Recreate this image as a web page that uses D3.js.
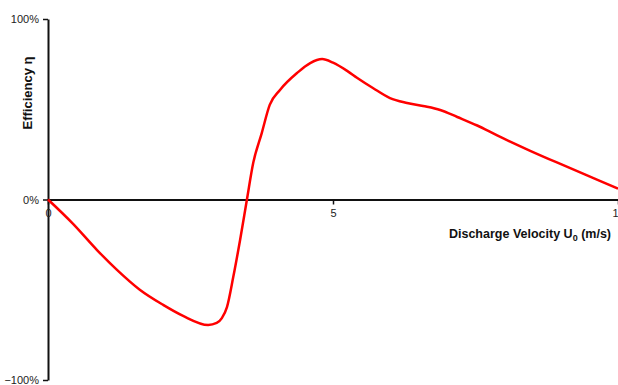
<!DOCTYPE html>
<html>
<head>
<meta charset="utf-8">
<script src="https://cdn.jsdelivr.net/npm/d3@7"></script>
<style>
  body { margin: 0; background: #fff; }
  text { font-family: "Liberation Sans", Arial, sans-serif; }
</style>
</head>
<body>
<div class="chart"></div>
<script>
// discharge velocity (m/s) and efficiency (fraction)
const velocity = [0, 0.44, 0.86, 1.21, 1.61, 2.02, 2.37, 2.81, 2.96, 3.05, 3.14, 3.25, 3.37, 3.49,
  3.60, 3.75, 3.89, 4.07, 4.37, 4.60, 4.81, 5.0, 5.26, 5.42, 5.70, 6.00, 6.30, 6.58, 6.88, 7.18,
  7.53, 7.88, 8.46, 9.04, 9.63, 10.0];
const efficiency = [0, -0.135, -0.28, -0.39, -0.50, -0.584, -0.645, -0.695, -0.684, -0.657, -0.596,
  -0.43, -0.224, 0, 0.202, 0.368, 0.524, 0.607, 0.701, 0.756, 0.778, 0.758, 0.71, 0.675, 0.618,
  0.562, 0.535, 0.518, 0.496, 0.457, 0.41, 0.355, 0.27, 0.19, 0.11, 0.06];
const xTicks = [0, 5, 10];
const yTicks = [-1, 0, 1];

const W = 618, H = 385;
const margin = {top: 19, right: 0, bottom: 5, left: 48};

const svg = d3.select(".chart").append("svg")
    .attr("width", W)
    .attr("height", H);

const x = d3.scaleLinear().domain([0, 10]).range([margin.left, 618]);
const y = d3.scaleLinear().domain([-1, 1]).range([380, 19]);

// y axis
const yaxis = svg.append("g")
    .attr("transform", "translate(" + margin.left + ",0)")
    .call(d3.axisLeft(y).tickValues(yTicks).tickFormat(d3.format(".0%")).tickSize(5).tickSizeOuter(0));

// x axis at 0%
const xaxis = svg.append("g")
    .attr("transform", "translate(0," + y(0) + ")")
    .call(d3.axisBottom(x).tickValues(xTicks).tickSize(5).tickSizeOuter(0));

[yaxis, xaxis].forEach(a => {
  a.select(".domain").attr("stroke", "#111").attr("stroke-width", 2);
  a.selectAll(".tick line").attr("stroke", "#111").attr("stroke-width", 1.5);
  a.selectAll(".tick text").attr("fill", "#222").style("font-size", "11px")
    .style("font-family", "'Liberation Sans', Arial, sans-serif");
});
yaxis.selectAll(".tick text").attr("x", -9);
xaxis.selectAll(".tick text").attr("y", 10);

const line = d3.line()
    .x((d, i) => x(velocity[i]))
    .y(d => y(d))
    .curve(d3.curveMonotoneX);

svg.append("path")
    .datum(efficiency)
    .attr("fill", "none")
    .attr("stroke", "#f00")
    .attr("stroke-width", 2.5)
    .attr("d", line);

// axis titles
svg.append("text")
    .attr("transform", "translate(32,93) rotate(-90)")
    .attr("text-anchor", "middle")
    .attr("font-weight", "bold")
    .attr("font-size", "13px")
    .attr("fill", "#111")
    .text("Efficiency η");

const xt = svg.append("text")
    .attr("x", 611)
    .attr("y", 238)
    .attr("text-anchor", "end")
    .attr("font-weight", "bold")
    .attr("font-size", "12.5px")
    .attr("fill", "#111");
xt.append("tspan").text("Discharge Velocity U");
xt.append("tspan").attr("font-size", "9px").attr("dy", 3).text("0");
xt.append("tspan").attr("dy", -3).text(" (m/s)");
</script>
</body>
</html>
